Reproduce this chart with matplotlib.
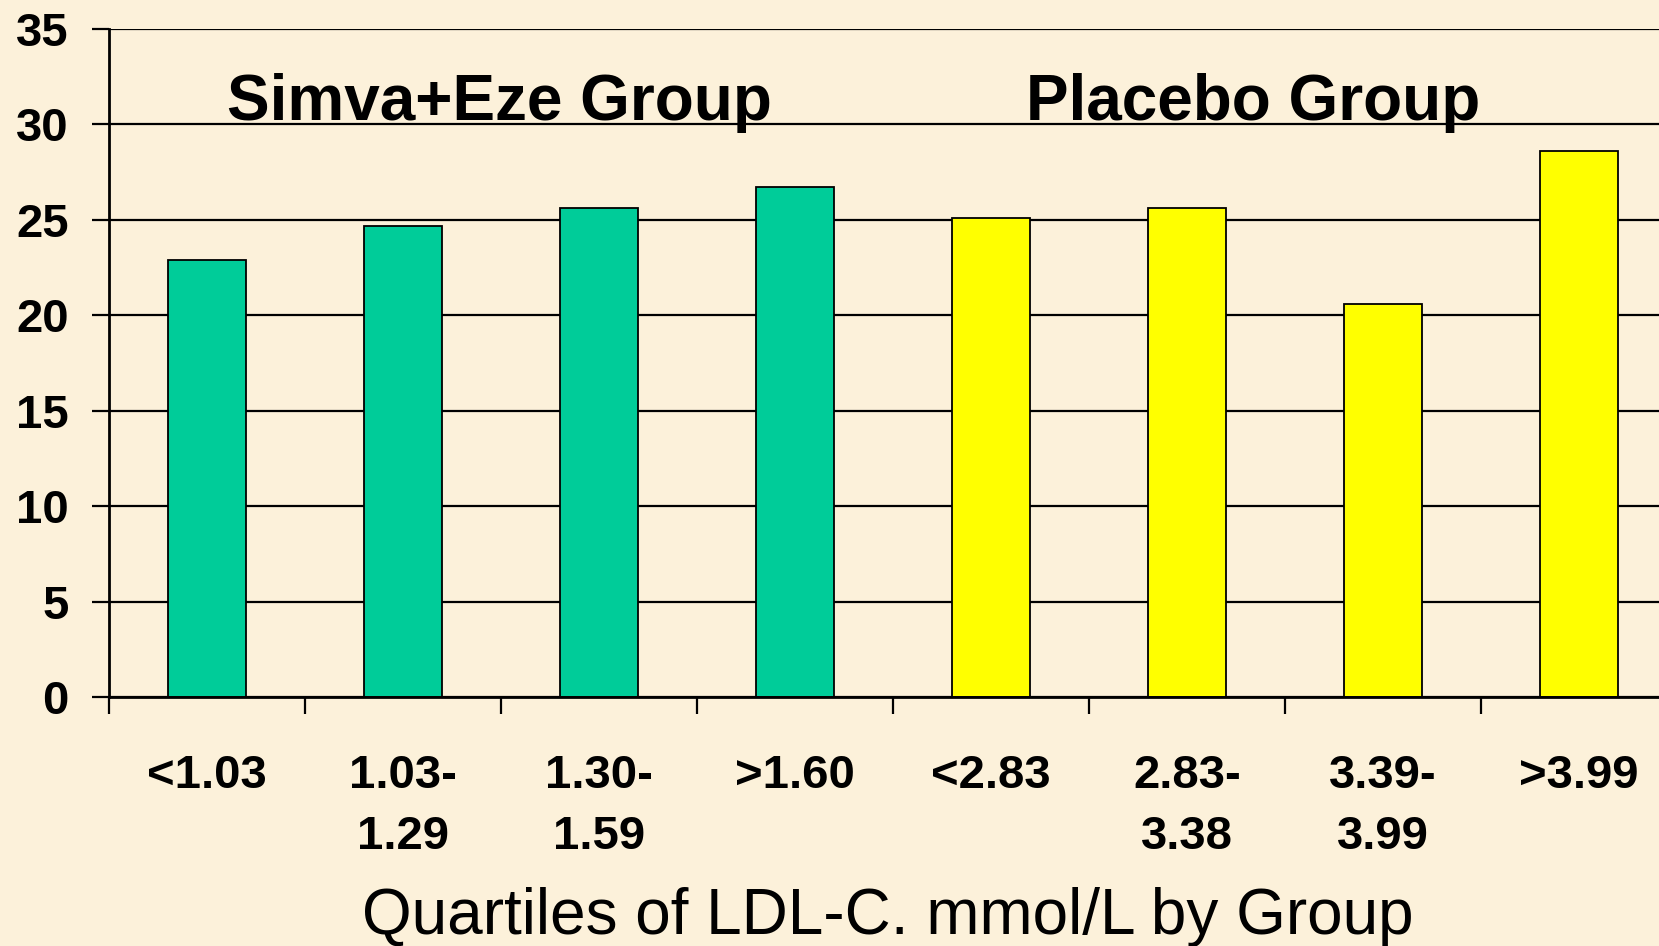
import matplotlib
matplotlib.use("Agg")
import matplotlib.pyplot as plt
import numpy as np

plt.rcParams['font.family'] = ['Liberation Sans', 'DejaVu Sans']

categories = ["<1.03", "1.03-\n1.29", "1.30-\n1.59", ">1.60",
              "<2.83", "2.83-\n3.38", "3.39-\n3.99", ">3.99"]
simva_eze = [22.9, 24.7, 25.6, 26.7]
placebo = [25.1, 25.6, 20.6, 28.6]
values = simva_eze + placebo
bar_colors = ["#00CC99"] * len(simva_eze) + ["#FFFF00"] * len(placebo)
group_titles = ["Simva+Eze Group", "Placebo Group"]
yticks = [0, 5, 10, 15, 20, 25, 30, 35]

bg = "#FCF1DA"
fig = plt.figure(figsize=(16.59, 9.46), dpi=100, facecolor=bg)
ax = fig.add_axes([0.0657, 0.2632, 0.9451, 0.7061])
ax.set_facecolor(bg)

x = np.arange(len(categories))
ax.bar(x, values, width=0.4, color=bar_colors, edgecolor="black",
       linewidth=1.3, zorder=3)

ax.set_xlim(-0.5, len(categories) - 0.5)
ax.set_ylim(0, 35)
ax.set_yticks(yticks)
ax.set_yticklabels([str(t) for t in yticks], fontsize=34, fontweight="bold")
ax.yaxis.grid(True, color="black", linewidth=1.6, zorder=1)
ax.tick_params(axis="y", direction="out", length=12, width=1.6, pad=17)

ax.set_xticks(x)
ax.set_xticklabels(categories, fontsize=34, fontweight="bold", linespacing=1.5)
ax.set_xticks(np.arange(len(categories) + 1) - 0.5, minor=True)
ax.tick_params(axis="x", which="major", length=0, pad=41)
ax.tick_params(axis="x", which="minor", direction="out", length=12, width=1.6)

for side in ["top", "right"]:
    ax.spines[side].set_visible(False)
for side in ["left", "bottom"]:
    ax.spines[side].set_linewidth(2)
    ax.spines[side].set_zorder(4)

ax.text(1.49, 31.15, group_titles[0], fontsize=46, fontweight="bold",
        ha="center", va="center")
ax.text(5.34, 31.15, group_titles[1], fontsize=46, fontweight="bold",
        ha="center", va="center")

fig.text(0.535, 0.031, "Quartiles of LDL-C. mmol/L by Group", fontsize=46,
         ha="center", va="center")

fig.savefig("out.png", dpi=100, facecolor=bg)
